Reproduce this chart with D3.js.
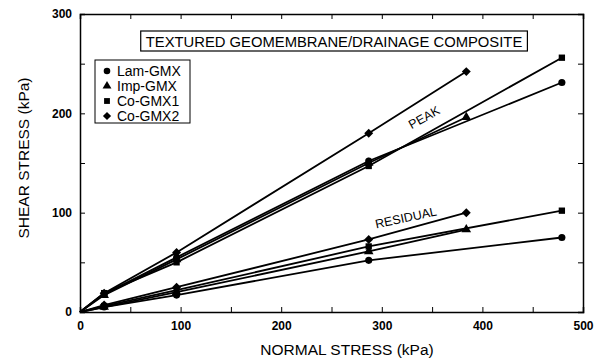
<!DOCTYPE html>
<html lang="en">
<head>
<meta charset="utf-8">
<title>Textured geomembrane / drainage composite</title>
<script src="https://d3js.org/d3.v7.min.js"></script>
<style>
  html, body { margin: 0; padding: 0; background: #fff; }
  body { font-family: "Liberation Sans", Arial, sans-serif; }
  svg { display: block; }
  .tick text { font-family: "Liberation Sans", Arial, sans-serif; font-weight: bold; font-size: 12px; }
</style>
</head>
<body>
<script>
// normal stress (kPa) of each test, per composite
var xLam = [0, 24, 96, 287, 479];
var xImp = [0, 24, 96, 287, 384];
var xCo1 = [0, 24, 96, 287, 479];
var xCo2 = [0, 24, 96, 287, 384];
// peak shear stress (kPa)
var peakLam = [0, 18, 55, 152, 231];
var peakImp = [0, 17, 53, 150, 196];
var peakCo1 = [0, 19, 50, 147, 256];
var peakCo2 = [0, 19, 60, 180, 242];
// residual shear stress (kPa)
var resLam = [0, 5, 17, 52, 75];
var resImp = [0, 5, 20, 61, 83];
var resCo1 = [0, 6, 22, 66, 102];
var resCo2 = [0, 7, 25, 73, 100];

var names = ["Lam-GMX", "Imp-GMX", "Co-GMX1", "Co-GMX2"];
var symbols = [d3.symbolCircle, d3.symbolTriangle, d3.symbolSquare, d3.symbolSquare];
var symRot = [0, 0, 0, 45];   // Co-GMX2 = square turned into a diamond
var xTicks = [0, 100, 200, 300, 400, 500];
var yTicks = [0, 100, 200, 300];
var title = "TEXTURED GEOMEMBRANE/DRAINAGE COMPOSITE";

var W = 599, H = 360;
var m = {left: 80, right: 16, top: 14, bottom: 48};

var svg = d3.select("body").append("svg").attr("width", W).attr("height", H);

var x = d3.scaleLinear().domain([0, 500]).range([m.left, W - m.right]);
var y = d3.scaleLinear().domain([0, 300]).range([H - m.bottom, m.top]);

// frame with inward ticks on all 4 sides
var minorX = d3.range(0, 501, 50), minorY = d3.range(0, 301, 50);
svg.append("g").attr("transform", "translate(0," + y(0) + ")")
  .call(d3.axisTop(x).tickValues(minorX).tickSize(5).tickFormat(""));
svg.append("g").attr("transform", "translate(0," + y(300) + ")")
  .call(d3.axisBottom(x).tickValues(minorX).tickSize(5).tickFormat(""));
svg.append("g").attr("transform", "translate(" + x(0) + ",0)")
  .call(d3.axisRight(y).tickValues(minorY).tickSize(5).tickFormat(""));
svg.append("g").attr("transform", "translate(" + x(500) + ",0)")
  .call(d3.axisLeft(y).tickValues(minorY).tickSize(5).tickFormat(""));
svg.selectAll(".domain").attr("stroke", "#000").attr("stroke-width", 1.5);
svg.selectAll(".tick line").attr("stroke", "#000").attr("stroke-width", 1);

// tick labels
var gx = svg.append("g").attr("transform", "translate(0," + y(0) + ")")
  .call(d3.axisBottom(x).tickValues(xTicks).tickSize(0).tickPadding(9).tickFormat(d3.format("d")));
gx.select(".domain").remove();
var gy = svg.append("g").attr("transform", "translate(" + x(0) + ",0)")
  .call(d3.axisLeft(y).tickValues(yTicks).tickSize(0).tickPadding(8).tickFormat(d3.format("d")));
gy.select(".domain").remove();
svg.selectAll(".tick text").attr("fill", "#000");

// axis titles
svg.append("text").attr("x", 347).attr("y", 355).attr("text-anchor", "middle")
  .style("font-size", "15.5px").text("NORMAL STRESS (kPa)");
svg.append("text").attr("transform", "translate(29,158) rotate(-90)").attr("text-anchor", "middle")
  .style("font-size", "15.5px").text("SHEAR STRESS (kPa)");

// title box
var tt = svg.append("text").attr("x", 334).attr("y", 46.5).attr("text-anchor", "middle")
  .style("font-size", "14.8px").text(title);
var bb = tt.node().getBBox();
svg.insert("rect", function(){ return tt.node(); })
  .attr("x", bb.x - 5).attr("y", 31).attr("width", bb.width + 10).attr("height", 20)
  .attr("fill", "none").attr("stroke", "#000").attr("stroke-width", 1.2);

// series
var xs = [xLam, xImp, xCo1, xCo2];
var peaks = [peakLam, peakImp, peakCo1, peakCo2];
var resids = [resLam, resImp, resCo1, resCo2];
var line = d3.line().x(function(d){ return x(d[0]); }).y(function(d){ return y(d[1]); });

function drawSeries(xv, yv, k) {
  var pts = d3.zip(xv, yv);
  svg.append("path").datum(pts).attr("d", line)
    .attr("fill", "none").attr("stroke", "#000").attr("stroke-width", 1.8);
  svg.append("g").selectAll("path").data(pts.slice(1)).enter().append("path")
    .attr("transform", function(d){ return "translate(" + x(d[0]) + "," + y(d[1]) + ") rotate(" + symRot[k] + ")"; })
    .attr("d", d3.symbol().type(symbols[k]).size(40))
    .attr("fill", "#000");
}
for (var i = 0; i < 4; i++) {
  drawSeries(xs[i], peaks[i], i);
  drawSeries(xs[i], resids[i], i);
}

// labels on the line groups
svg.append("text").attr("transform", "translate(" + x(342) + "," + y(196) + ") rotate(-29)")
  .attr("text-anchor", "middle").attr("dy", "0.35em").style("font-size", "12.5px").text("PEAK");
svg.append("text").attr("transform", "translate(" + x(324) + "," + y(95) + ") rotate(-12)")
  .attr("text-anchor", "middle").attr("dy", "0.35em").style("font-size", "12.5px").text("RESIDUAL");

// legend
var lg = svg.append("g");
lg.append("rect").attr("x", 95).attr("y", 60).attr("width", 95).attr("height", 63)
  .attr("fill", "#fff").attr("stroke", "#000").attr("stroke-width", 1);
var item = lg.selectAll("g").data(names).enter().append("g")
  .attr("transform", function(d, i){ return "translate(107," + (71 + i * 15) + ")"; });
item.append("path")
  .attr("transform", function(d, i){ return "rotate(" + symRot[i] + ")"; })
  .attr("d", function(d, i){ return d3.symbol().type(symbols[i]).size(34)(); })
  .attr("fill", "#000");
item.append("text").attr("x", 10).attr("dy", "0.35em").style("font-size", "14px")
  .text(function(d){ return d; });
</script>
</body>
</html>
